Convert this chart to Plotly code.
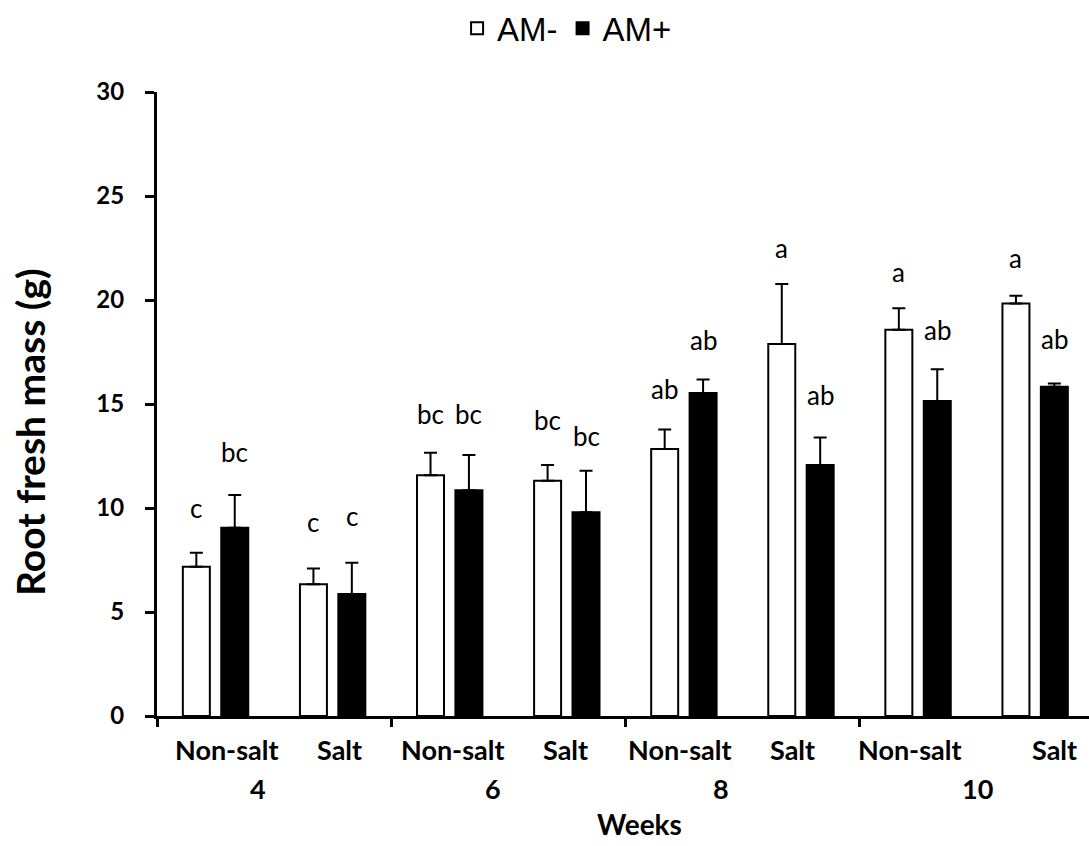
import plotly.graph_objects as go

# ---------------- data ----------------
weeks = ["4", "6", "8", "10"]
conditions = ["Non-salt", "Salt"]
am_minus = [7.18, 6.34, 11.58, 11.31, 12.84, 17.88, 18.57, 19.83]
am_minus_err = [0.67, 0.75, 1.08, 0.76, 0.94, 2.89, 1.03, 0.38]
am_plus = [9.05, 5.86, 10.85, 9.79, 15.53, 12.07, 15.15, 15.83]
am_plus_err = [1.57, 1.51, 1.70, 2.00, 0.65, 1.32, 1.52, 0.16]
letters_minus = ["c", "c", "bc", "bc", "ab", "a", "a", "a"]
letters_plus = ["bc", "c", "bc", "bc", "ab", "ab", "ab", "ab"]
letter_y_minus = [9.44, 8.76, 13.99, 13.69, 15.18, 21.95, 20.78, 21.47]
letter_y_plus = [12.15, 9.04, 13.99, 12.89, 17.52, 14.89, 17.99, 17.58]

# ---------------- layout helpers ----------------
n = len(weeks) * len(conditions)
xs = list(range(n))
BARGAP = 0.344
BARGROUPGAP = 0.297
half = (1 - BARGAP) / 4  # offset of each bar centre from category centre

LETTER_FONT = dict(family="Lato", size=26, color="black")
BOLD = "Lato"

fig = go.Figure()
fig.add_trace(go.Bar(
    x=xs, y=am_minus, name="AM-",
    marker=dict(color="white", line=dict(color="black", width=2)),
    error_y=dict(type="data", symmetric=False, array=am_minus_err,
                 arrayminus=[0] * n, color="black", thickness=2, width=6.5),
))
fig.add_trace(go.Bar(
    x=xs, y=am_plus, name="AM+",
    marker=dict(color="black", line=dict(color="black", width=2)),
    error_y=dict(type="data", symmetric=False, array=am_plus_err,
                 arrayminus=[0] * n, color="black", thickness=2, width=6.5),
))

annotations = []
for i in range(n):
    annotations.append(dict(x=i - half, y=letter_y_minus[i], text=letters_minus[i],
                            xref="x", yref="y", showarrow=False, yanchor="bottom",
                            yshift=-6.5, font=LETTER_FONT))
    annotations.append(dict(x=i + half, y=letter_y_plus[i], text=letters_plus[i],
                            xref="x", yref="y", showarrow=False, yanchor="bottom",
                            yshift=-6.5, font=LETTER_FONT))

# category labels (positions as they sit in the source figure)
nonsalt_x = [0.098, 2.029, 3.965, 5.935]
salt_x = [1.057, 2.989, 4.930, 7.163]
week_x = [0.361, 2.370, 4.315, 6.509]
for k in range(len(weeks)):
    annotations.append(dict(x=nonsalt_x[k], y=-0.0534, xref="x", yref="paper",
                            text=conditions[0], showarrow=False, yanchor="middle",
                            font=dict(family=BOLD, size=27, color="black", weight="bold")))
    annotations.append(dict(x=salt_x[k], y=-0.0534, xref="x", yref="paper",
                            text=conditions[1], showarrow=False, yanchor="middle",
                            font=dict(family=BOLD, size=27, color="black", weight="bold")))
    annotations.append(dict(x=week_x[k], y=-0.1163, xref="x", yref="paper",
                            text=weeks[k], showarrow=False, yanchor="middle",
                            font=dict(family=BOLD, size=27, color="black", weight="bold")))

annotations.append(dict(x=0.518, y=-0.1737, xref="paper", yref="paper", text="Weeks",
                        showarrow=False, yanchor="middle", xanchor="center",
                        font=dict(family=BOLD, size=28, color="black", weight="bold")))
annotations.append(dict(x=-0.137, y=0.4556, xref="paper", yref="paper",
                        text="Root fresh mass (g)", textangle=-90, showarrow=False,
                        xanchor="center", yanchor="middle",
                        font=dict(family=BOLD, size=39, color="black", weight="bold")))

fig.update_layout(
    width=1089, height=846,
    margin=dict(l=157, r=0, t=88, b=130, pad=0),
    paper_bgcolor="white", plot_bgcolor="white",
    barmode="group", bargap=BARGAP, bargroupgap=BARGROUPGAP,
    showlegend=True,
    legend=dict(orientation="h", x=0.44, y=1.102, xanchor="center", yanchor="middle",
                font=dict(family="Liberation Sans", size=33, color="black"),
                itemwidth=30, bgcolor="rgba(0,0,0,0)"),
    annotations=annotations,
    xaxis=dict(range=[-0.5, 7.46], tickmode="array", tickvals=[-0.5, 1.5, 3.5, 5.5, 7.5],
               ticktext=["", "", "", "", ""], ticks="outside", ticklen=8, tickwidth=2.5,
               tickcolor="black", showline=True, linecolor="black", linewidth=3,
               showgrid=False, zeroline=False),
    yaxis=dict(range=[0, 30], tickmode="array", tickvals=[0, 5, 10, 15, 20, 25, 30],
               ticks="outside", ticklen=9, tickwidth=2.5, tickcolor="black",
               showline=True, linecolor="black", linewidth=3, showgrid=False,
               zeroline=False, ticklabelstandoff=16,
               tickfont=dict(family=BOLD, size=24, color="black", weight="bold")),
)

fig.write_html("out.html", config={"displayModeBar": False},
               post_script="document.body.style.margin='0';")
